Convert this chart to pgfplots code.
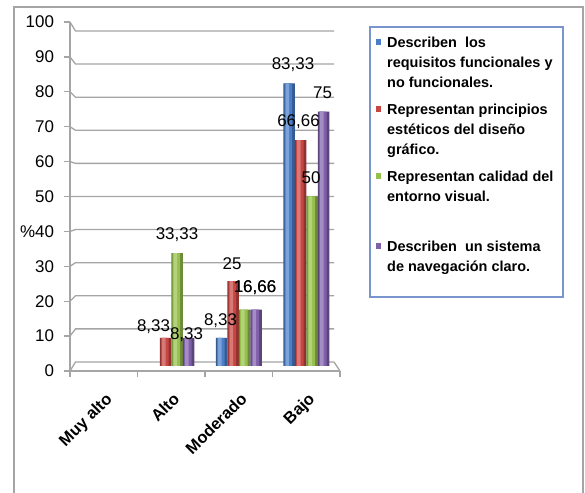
\documentclass[border=0pt]{standalone}
\usepackage{fontspec}
\setmainfont{Liberation Sans}
\usepackage{pgfplots}
\usepackage{pgfplotstable}
\pgfplotsset{compat=1.18}

\definecolor{sBlue}{RGB}{74,126,200}
\definecolor{sRed}{RGB}{200,70,66}
\definecolor{sGreen}{RGB}{150,192,76}
\definecolor{sPurple}{RGB}{128,96,170}
\definecolor{frameGray}{RGB}{165,165,165}
\definecolor{legBorder}{RGB}{120,150,205}

% category index, value, label offsets (x, y above bar top)
\pgfplotstableread{
x y dx dy
2 8.33 -1 17
3 83.33 4 18.5
}\tblBlue
\pgfplotstableread{
x y dx dy
1 8.33 -12 11
2 25 -1 18
3 66.66 -2 18
}\tblRed
\pgfplotstableread{
x y dx dy
1 33.33 0 18
2 16.66 10.5 22
3 50 -1 18.5
}\tblGreen
\pgfplotstableread{
x y dx dy
1 8.33 -2 3
2 16.66 -1 22
3 75 -1 19
}\tblPurple

\newcommand{\lbl}{\fontsize{17}{20}\selectfont}
\newcommand{\cat}{\fontsize{16.5}{20}\selectfont\bfseries}
\newcommand{\leg}{\fontsize{14.5}{20}\selectfont\bfseries}

\pgfplotsset{
  layer/.style={forget plot, draw=none, fill=#1},
  labels/.style={forget plot, draw=none, fill=none,
    nodes near coords,
    visualization depends on={\thisrow{dx}\as\dx},
    visualization depends on={\thisrow{dy}\as\dy},
    nodes near coords style={anchor=center, text=black, xshift=\dx bp, yshift=\dy bp}},
}
% a cylinder-like series: dark body, lighter core, highlight stripe
% #1 table, #2 colour, #3 bar shift, #4 core shift, #5 highlight shift
\newcommand{\cylseries}[5]{%
  \addplot[layer=#2!72!black, bar shift=#3bp, bar width=11.5bp] table[x=x,y=y]{#1};
  \addplot[layer=#2, bar shift=#4bp, bar width=7.5bp] table[x=x,y=y]{#1};
  \addplot[layer=#2!72!white, bar shift=#5bp, bar width=3.5bp] table[x=x,y=y]{#1};
}

\begin{document}
\begin{tikzpicture}[x=1bp,y=1bp]
\useasboundingbox (0,0) rectangle (585,493);
% outer frame
\draw[frameGray, line width=1.6bp] (14,-2) -- (14,486) -- (583,486) -- (583,-2);

% back wall gridlines and the perspective connectors
\foreach \v in {0,10,...,100}{
  \draw[frameGray, line width=1.3bp]
    (70,{122+3.49*\v}) -- (75.5,{131+3.31*\v}) -- (334,{131+3.31*\v});
}
\draw[frameGray, line width=1.3bp] (334,131) -- (340,122);

% front axis: lines, ticks and labels
\begin{axis}[at={(70bp,122bp)}, anchor=south west, scale only axis,
  width=270bp, height=349bp,
  xmin=-0.5, xmax=3.5, ymin=0, ymax=100,
  axis lines=left, axis line style={-, frameGray, line width=1.3bp},
  tick style={frameGray, line width=1.3bp}, tick align=outside,
  major tick length=6.5bp, minor tick length=6.5bp,
  /pgf/number format/assume math mode=true,
  ytick={0,10,...,100},
  yticklabels={0,10,20,30,\%40,50,60,70,80,90,100},
  yticklabel style={font=\lbl, xshift=-6bp},
  xtick={0,1,2,3},
  xticklabels={Muy alto,Alto,Moderado,Bajo},
  major x tick style={draw=none},
  minor xtick={-0.5,0.5,1.5,2.5,3.5},
  xticklabel style={rotate=45, anchor=north east, font=\cat,
    yshift=-7bp, xshift=-6bp},
]
\end{axis}

% cylinders
\begin{axis}[at={(70bp,127bp)}, anchor=south west, scale only axis,
  width=270bp, height=339bp,
  xmin=-0.5, xmax=3.5, ymin=0, ymax=100,
  axis lines=none, clip=false,
  ybar=0pt,
  /pgf/number format/assume math mode=true,
  /pgf/number format/use comma,
  every node near coord/.append style={font=\lbl, inner sep=0pt},
]
\cylseries{\tblBlue}{sBlue}{-17.25}{-18.0}{-19.0}
\cylseries{\tblRed}{sRed}{-5.75}{-6.5}{-7.5}
\cylseries{\tblGreen}{sGreen}{5.75}{5.0}{4.0}
\cylseries{\tblPurple}{sPurple}{17.25}{16.5}{15.5}
% value labels on top of all bars
\addplot[labels, bar shift=-17.25bp] table[x=x,y=y]{\tblBlue};
\addplot[labels, bar shift=-5.75bp] table[x=x,y=y]{\tblRed};
\addplot[labels, bar shift=5.75bp] table[x=x,y=y]{\tblGreen};
\addplot[labels, bar shift=17.25bp] table[x=x,y=y]{\tblPurple};
\end{axis}

% legend
\draw[legBorder, line width=1.3bp, fill=white] (370,196) rectangle (563,466);
\fill[sBlue]   (375.7,448.3) rectangle +(5.5,5.5);
\fill[sRed]    (375.7,381.3) rectangle +(5.5,5.5);
\fill[sGreen]  (375.7,314.3) rectangle +(5.5,5.5);
\fill[sPurple] (375.7,244.3) rectangle +(5.5,5.5);
\begin{scope}[every node/.style={anchor=base west, inner sep=0pt, font=\leg}]
\node at (387,445) {Describen\ \ los};
\node at (387,425) {requisitos funcionales y};
\node at (387,405) {no funcionales.};
\node at (387,378) {Representan principios};
\node at (387,358) {estéticos del diseño};
\node at (387,338) {gráfico.};
\node at (387,311) {Representan calidad del};
\node at (387,291) {entorno visual.};
\node at (387,241) {Describen\ \ un sistema};
\node at (387,221) {de navegación claro.};
\end{scope}
\end{tikzpicture}
\end{document}
